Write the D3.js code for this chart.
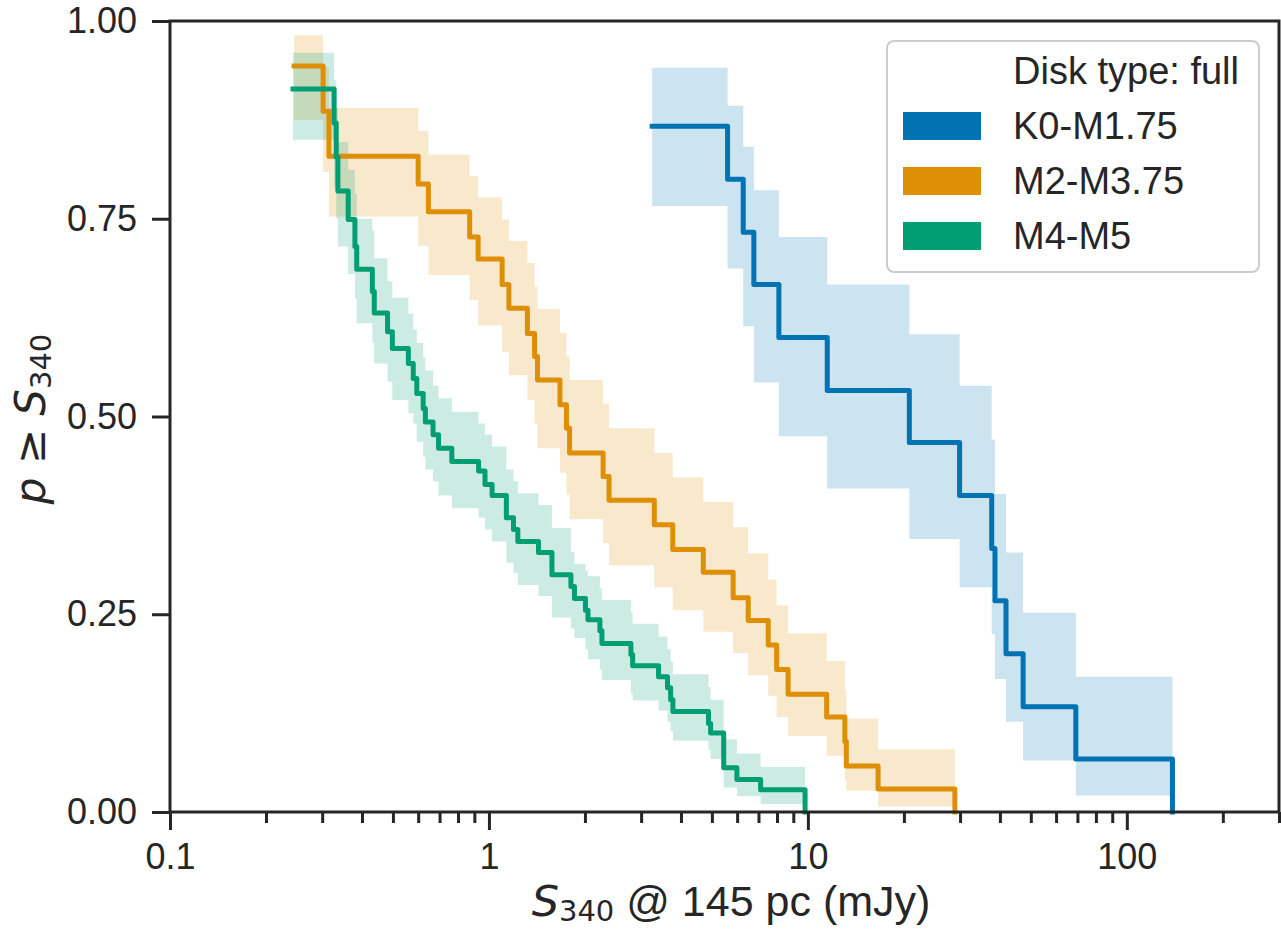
<!DOCTYPE html>
<html>
<head>
<meta charset="utf-8">
<script src="https://cdn.jsdelivr.net/npm/d3@7/dist/d3.min.js"></script>
<style>
  body { margin: 0; background: #ffffff; }
  text { font-family: "Liberation Sans", Arial, sans-serif; fill: #262626; }
</style>
</head>
<body>
<div id="chart"></div>
<script>
// Survival curves.
// *Flux: flux (mJy) where each step starts, the last value is where the curve drops to 0
// *Prob: level of each step (last one is 0), *Upper / *Lower: confidence band of each step

// K0-M1.75
var k0Flux  = [3.25, 5.60, 6.27, 6.77, 8.11, 11.5, 20.8, 29.9, 37.7, 38.6, 41.8, 47.3, 69.2, 139];
var k0Prob  = [0.867, 0.800, 0.733, 0.667, 0.600, 0.533, 0.467, 0.400, 0.333, 0.267, 0.200, 0.133, 0.067, 0];
var k0Upper = [0.941, 0.893, 0.841, 0.786, 0.727, 0.667, 0.604, 0.539, 0.471, 0.402, 0.328, 0.252, 0.171];
var k0Lower = [0.766, 0.687, 0.614, 0.543, 0.475, 0.409, 0.345, 0.284, 0.225, 0.168, 0.114, 0.065, 0.021];

// M2-M3.75
var m2Flux  = [0.245, 0.302, 0.315, 0.600, 0.646, 0.870, 0.925, 1.10, 1.155, 1.32, 1.39, 1.42, 1.67, 1.75, 1.79,
               2.28, 2.38, 3.30, 3.77, 4.70, 5.83, 6.50, 7.51, 7.98, 8.67, 11.45, 13.06, 13.2, 16.6, 28.9];
var m2Prob  = [0.943, 0.886, 0.829, 0.794, 0.759, 0.727, 0.699, 0.667, 0.637, 0.605, 0.576, 0.546, 0.515, 0.485, 0.454,
               0.424, 0.394, 0.363, 0.332, 0.303, 0.271, 0.242, 0.211, 0.180, 0.149, 0.120, 0.089, 0.058, 0.029, 0];
var m2Upper = [0.982, 0.942, 0.890, 0.861, 0.831, 0.804, 0.777, 0.749, 0.722, 0.694, 0.664, 0.636, 0.606, 0.576, 0.546,
               0.516, 0.485, 0.454, 0.423, 0.392, 0.360, 0.327, 0.294, 0.261, 0.226, 0.191, 0.155, 0.118, 0.079];
var m2Lower = [0.875, 0.809, 0.753, 0.716, 0.679, 0.647, 0.615, 0.582, 0.552, 0.521, 0.491, 0.460, 0.429, 0.401, 0.370,
               0.340, 0.312, 0.284, 0.255, 0.228, 0.201, 0.173, 0.147, 0.120, 0.096, 0.071, 0.040, 0.027, 0.007];

// M4-M5
var m4Flux  = [0.243, 0.327, 0.332, 0.336, 0.362, 0.380, 0.385, 0.431, 0.437, 0.481, 0.498, 0.559, 0.579, 0.594, 0.622,
               0.632, 0.668, 0.695, 0.765, 0.928, 0.972, 1.023, 1.134, 1.194, 1.232, 1.43, 1.576, 1.807, 1.854, 2.007,
               2.044, 2.228, 2.261, 2.787, 2.822, 3.402, 3.630, 3.712, 3.774, 4.880, 4.955, 5.446, 5.990, 7.108, 9.80];
var m4Prob  = [0.914, 0.871, 0.828, 0.785, 0.749, 0.715, 0.686, 0.658, 0.631, 0.607, 0.586, 0.567, 0.548, 0.529, 0.510,
               0.493, 0.477, 0.460, 0.443, 0.431, 0.414, 0.400, 0.372, 0.357, 0.342, 0.328, 0.300, 0.285, 0.270, 0.255,
               0.243, 0.229, 0.213, 0.199, 0.185, 0.171, 0.157, 0.142, 0.127, 0.112, 0.100, 0.056, 0.041, 0.028, 0];
var m4Upper = [0.960, 0.925, 0.890, 0.847, 0.812, 0.782, 0.750, 0.735, 0.700, 0.671, 0.650, 0.630, 0.610, 0.593, 0.575,
               0.558, 0.539, 0.523, 0.506, 0.491, 0.477, 0.462, 0.433, 0.418, 0.403, 0.388, 0.359, 0.329, 0.314, 0.305,
               0.298, 0.283, 0.268, 0.252, 0.238, 0.222, 0.206, 0.190, 0.174, 0.158, 0.142, 0.092, 0.074, 0.057];
var m4Lower = [0.850, 0.790, 0.750, 0.715, 0.680, 0.649, 0.618, 0.593, 0.567, 0.544, 0.521, 0.504, 0.491, 0.468, 0.449,
               0.433, 0.418, 0.400, 0.384, 0.372, 0.357, 0.342, 0.315, 0.302, 0.287, 0.273, 0.246, 0.232, 0.220, 0.205,
               0.193, 0.180, 0.167, 0.150, 0.141, 0.128, 0.114, 0.102, 0.090, 0.078, 0.067, 0.031, 0.020, 0.010];

// Legend and ticks
var legendTitle = "Disk type: full";
var legendLabels = ["K0-M1.75", "M2-M3.75", "M4-M5"];
var colors = ["#0173b2", "#de8f05", "#029e73"];

var xMajor = [0.1, 1, 10, 100];
var xMajorLabels = ["0.1", "1", "10", "100"];
var xMinor = [0.2, 0.3, 0.4, 0.5, 0.6, 0.7, 0.8, 0.9,
              2, 3, 4, 5, 6, 7, 8, 9,
              20, 30, 40, 50, 60, 70, 80, 90,
              200, 300];
var yMajor = [0, 0.25, 0.5, 0.75, 1];
var yMajorLabels = ["0.00", "0.25", "0.50", "0.75", "1.00"];

var series = [
    {name: legendLabels[0], color: colors[0], flux: k0Flux, prob: k0Prob, upper: k0Upper, lower: k0Lower},
    {name: legendLabels[1], color: colors[1], flux: m2Flux, prob: m2Prob, upper: m2Upper, lower: m2Lower},
    {name: legendLabels[2], color: colors[2], flux: m4Flux, prob: m4Prob, upper: m4Upper, lower: m4Lower}
];

//Define SVG area
var svgWidth = 1281;
var svgHeight = 930;

//Define chart margins
var chartMargin = {top: 21, right: 2, bottom: 118, left: 170};

var chartWidth = svgWidth - chartMargin.left - chartMargin.right;
var chartHeight = svgHeight - chartMargin.top - chartMargin.bottom;

var ink = "#262626";

var svg = d3.select("#chart")
    .append("svg")
    .attr("width", svgWidth)
    .attr("height", svgHeight);

var chartGroup = svg.append("g")
    .attr("transform", `translate(${chartMargin.left}, ${chartMargin.top})`);

//Scales
var xScale = d3.scaleLog()
    .domain([0.1, 300])
    .range([0, chartWidth]);

var yScale = d3.scaleLinear()
    .domain([0, 1])
    .range([chartHeight, 0]);

//Confidence bands (drawn first so every line sits above them)
var band = d3.area()
    .curve(d3.curveStepAfter)
    .x(d => xScale(d.x))
    .y0(d => yScale(d.lo))
    .y1(d => yScale(d.hi));

series.forEach(function(s) {
    var n = s.upper.length;
    var pts = s.upper.map((u, i) => ({x: s.flux[i], lo: s.lower[i], hi: u}));
    pts.push({x: s.flux[n], lo: s.lower[n - 1], hi: s.upper[n - 1]});

    chartGroup.append("path")
        .datum(pts)
        .attr("d", band)
        .attr("fill", s.color)
        .attr("fill-opacity", 0.2)
        .attr("stroke", "none");
});

//Step lines
var step = d3.line()
    .curve(d3.curveStepAfter)
    .x(d => xScale(d.x))
    .y(d => yScale(d.p));

series.forEach(function(s) {
    var pts = s.flux.map((f, i) => ({x: f, p: s.prob[i]}));

    chartGroup.append("path")
        .datum(pts)
        .attr("d", step)
        .attr("fill", "none")
        .attr("stroke", s.color)
        .attr("stroke-width", 5)
        .attr("stroke-linejoin", "round")
        .attr("stroke-linecap", "square");
});

//Axes
var bottomMinor = d3.axisBottom(xScale)
    .tickValues(xMinor)
    .tickSize(11)
    .tickFormat("");

var bottomMajor = d3.axisBottom(xScale)
    .tickValues(xMajor)
    .tickSize(18)
    .tickPadding(13)
    .tickFormat((d, i) => xMajorLabels[i]);

var leftAxis = d3.axisLeft(yScale)
    .tickValues(yMajor)
    .tickSize(18)
    .tickPadding(15)
    .tickFormat((d, i) => yMajorLabels[i]);

chartGroup.append("g")
    .attr("transform", `translate(0, ${chartHeight})`)
    .call(bottomMinor);

chartGroup.append("g")
    .attr("transform", `translate(0, ${chartHeight})`)
    .call(bottomMajor);

chartGroup.append("g")
    .call(leftAxis);

chartGroup.selectAll(".domain").remove();
chartGroup.selectAll(".tick line")
    .attr("stroke", ink)
    .attr("stroke-width", 3);
chartGroup.selectAll(".tick text")
    .attr("fill", ink)
    .style("font-family", "'Liberation Sans', Arial, sans-serif")
    .style("font-size", "36px");

//Frame around the plot
chartGroup.append("rect")
    .attr("x", 0)
    .attr("y", 0)
    .attr("width", chartWidth)
    .attr("height", chartHeight)
    .attr("fill", "none")
    .attr("stroke", ink)
    .attr("stroke-width", 3);

//Axis labels
var xLabel = svg.append("text")
    .attr("x", 731)
    .attr("y", 916)
    .attr("text-anchor", "middle")
    .style("font-size", "43px");
xLabel.append("tspan")
    .style("font-family", "'DejaVu Sans', sans-serif")
    .style("font-style", "italic")
    .text("S");
xLabel.append("tspan")
    .style("font-family", "'DejaVu Sans', sans-serif")
    .style("font-size", "29px")
    .attr("dy", 5)
    .text("340");
xLabel.append("tspan")
    .attr("dy", -5)
    .text(" @ 145 pc (mJy)");

var yLabel = svg.append("text")
    .attr("transform", "translate(45, 419) rotate(-90)")
    .attr("text-anchor", "middle")
    .style("font-family", "'DejaVu Sans', sans-serif")
    .style("font-size", "42px");
yLabel.append("tspan")
    .style("font-style", "italic")
    .text("p");
yLabel.append("tspan")
    .text(" \u2265 ");
yLabel.append("tspan")
    .style("font-style", "italic")
    .text("S");
yLabel.append("tspan")
    .style("font-size", "29px")
    .attr("dy", 6)
    .text("340");

//Legend
var legend = svg.append("g")
    .attr("transform", "translate(887, 41)");

legend.append("rect")
    .attr("width", 372)
    .attr("height", 231)
    .attr("rx", 7)
    .attr("fill", "#ffffff")
    .attr("fill-opacity", 0.8)
    .attr("stroke", "#cccccc")
    .attr("stroke-width", 2);

legend.append("text")
    .attr("x", 126)
    .attr("y", 30 + 13)
    .style("font-size", "38px")
    .text(legendTitle);

series.forEach(function(s, i) {
    var cy = 85 + i * 55;
    legend.append("rect")
        .attr("x", 16)
        .attr("y", cy - 14)
        .attr("width", 78)
        .attr("height", 28)
        .attr("fill", s.color);
    legend.append("text")
        .attr("x", 126)
        .attr("y", cy + 13)
        .style("font-size", "38px")
        .text(s.name);
});
</script>
</body>
</html>
